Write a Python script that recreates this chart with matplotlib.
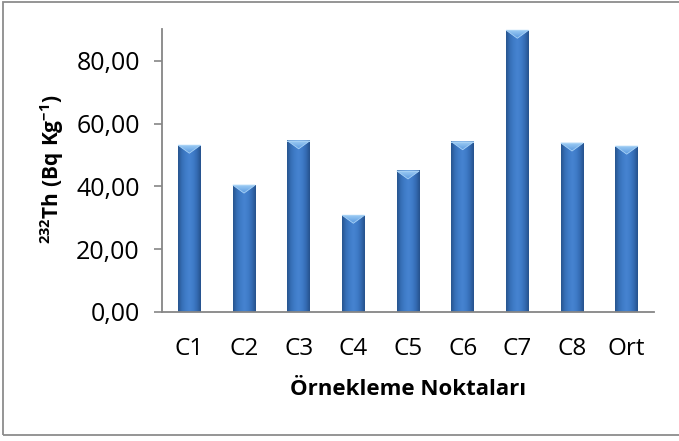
import matplotlib
matplotlib.use("Agg")
import matplotlib.pyplot as plt
import numpy as np
from matplotlib.colors import LinearSegmentedColormap
from matplotlib.patches import Polygon, Rectangle
from matplotlib.ticker import FuncFormatter

categories = ["C1", "C2", "C3", "C4", "C5", "C6", "C7", "C8", "Ort"]
values = [53.1, 40.4, 54.5, 30.8, 44.9, 54.2, 89.7, 53.8, 52.8]
yticks = [0, 20, 40, 60, 80]
xlabel = "Örnekleme Noktaları"
ylabel = r"$\mathbf{^{232}Th\ (Bq\ Kg^{-1})}$"

plt.rcParams["font.family"] = ["Open Sans", "DejaVu Sans"]
plt.rcParams["mathtext.fontset"] = "custom"
plt.rcParams["mathtext.rm"] = "Open Sans"
plt.rcParams["mathtext.bf"] = "Open Sans:bold"
plt.rcParams["mathtext.it"] = "Open Sans:italic"

W, H = 679, 441
fig = plt.figure(figsize=(W / 100, H / 100), dpi=100)
ax = fig.add_axes([162 / W, 1 - 312 / H, (654 - 162) / W, (312 - 29.3) / H])

x = np.arange(len(categories))
bars = ax.bar(x, values, width=0.41, color="#3A74C0", zorder=2)
ax.set_xlim(-0.5, len(categories) - 0.5)
ax.set_ylim(0, 90)

# cylindrical gradient shading for each bar
cmap = LinearSegmentedColormap.from_list(
    "cyl", ["#27548E", "#366FB7", "#3F7CC8", "#4684D1", "#3F7CC8", "#346BB3", "#26528C"])
grad = np.linspace(0, 1, 64)[None, :]
tri_cmap = LinearSegmentedColormap.from_list("tri", ["#5C9BE0", "#9CCBF4"])
fig.canvas.draw()
px_per_unit = (ax.transData.transform((0, 1))[1] - ax.transData.transform((0, 0))[1])
for b in bars:
    x0, w, h = b.get_x(), b.get_width(), b.get_height()
    ax.imshow(grad, extent=[x0, x0 + w, 0, h], aspect="auto", cmap=cmap,
              zorder=3, interpolation="bicubic")
    depth = 8 / px_per_unit
    tri = Polygon([(x0, h), (x0 + w, h), (x0 + w / 2, h - depth)], closed=True,
                  facecolor="none", edgecolor="#A9D3F7", linewidth=0.6, zorder=5)
    ax.add_patch(tri)
    tim = ax.imshow(np.linspace(0, 1, 32)[:, None], extent=[x0, x0 + w, h - depth, h],
                    aspect="auto", cmap=tri_cmap, origin="lower", zorder=4,
                    interpolation="bicubic")
    tim.set_clip_path(tri)
    ax.add_patch(Rectangle((x0, h - 0.35), w, 0.35, facecolor="#A5D0F4",
                           edgecolor="none", zorder=5))
ax.set_xlim(-0.5, len(categories) - 0.5)
ax.set_ylim(0, 90)

ax.set_xticks(x)
ax.set_xticklabels(categories)
ax.set_yticks(yticks)
ax.yaxis.set_major_formatter(FuncFormatter(lambda v, p: f"{v:.2f}".replace(".", ",")))

for s in ["top", "right"]:
    ax.spines[s].set_visible(False)
for s in ["left", "bottom"]:
    ax.spines[s].set_color("#868686")
    ax.spines[s].set_linewidth(1.3)
    ax.spines[s].set_zorder(6)

ax.tick_params(axis="y", direction="out", length=6, width=1.2, color="#868686",
               labelsize=18, pad=10)
ax.tick_params(axis="x", length=0, labelsize=17.5, pad=18)

fig.text(408 / W, 1 - 395 / H, xlabel, ha="center", va="baseline",
         fontsize=16, fontweight="bold")
fig.text(52 / W, 1 - 169 / H, ylabel, ha="center", va="center", rotation=90,
         fontsize=15)

fig.add_artist(Rectangle((3 / W, 1 - 435 / H), (690 - 3) / W, (435 - 2) / H,
                         transform=fig.transFigure, fill=False,
                         edgecolor="#8C8C8C", linewidth=1.3))

fig.savefig("out.png", dpi=100)
